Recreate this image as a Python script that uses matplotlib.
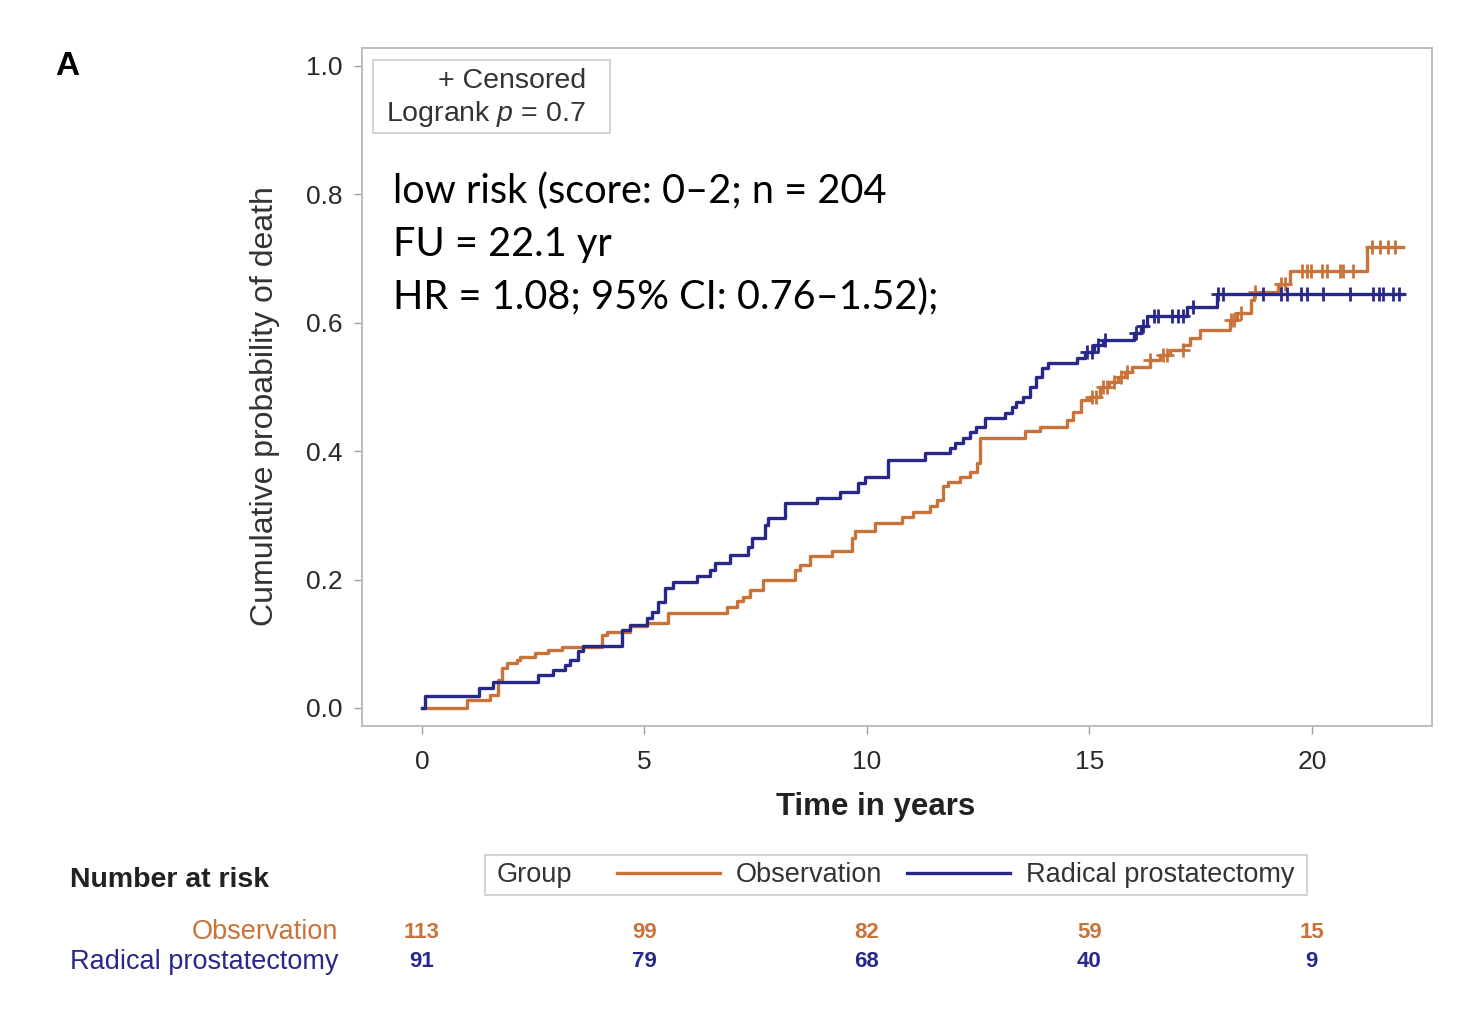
import numpy as np
import matplotlib
matplotlib.use("Agg")
import matplotlib.pyplot as plt
from matplotlib.lines import Line2D
from matplotlib.patches import Rectangle
from matplotlib.transforms import blended_transform_factory

plt.rcParams['font.family'] = ['Liberation Sans', 'DejaVu Sans']
plt.rcParams['mathtext.fontset'] = 'custom'
plt.rcParams['mathtext.rm'] = 'Liberation Sans'
plt.rcParams['mathtext.it'] = 'Liberation Sans:italic'

# step curves (time in years, cumulative probability)
obs_t = [0, 1.00, 1.53, 1.71, 1.79, 1.90, 2.13, 2.20, 2.54, 2.84, 3.14, 4.04, 4.15, 4.67,
         5.05, 5.53, 6.85, 7.07, 7.22, 7.37, 7.67, 8.38, 8.49, 8.72, 9.21, 9.66, 9.73,
         10.18, 10.78, 11.04, 11.42, 11.57, 11.71, 11.83, 12.09, 12.31, 12.47, 12.55,
         13.55, 13.89, 14.49, 14.63, 14.82, 15.01, 15.24, 15.45, 15.65, 15.80, 15.95,
         16.36, 16.58, 16.81, 17.11, 17.26, 17.48, 18.16, 18.31, 18.64, 18.70, 19.24,
         19.50, 21.23]
obs_p = [0, 0.012, 0.020, 0.044, 0.062, 0.070, 0.075, 0.080, 0.085, 0.090, 0.095, 0.114,
         0.119, 0.127, 0.132, 0.148, 0.158, 0.166, 0.173, 0.184, 0.200, 0.215, 0.223,
         0.236, 0.244, 0.265, 0.275, 0.288, 0.298, 0.306, 0.314, 0.324, 0.345, 0.352,
         0.360, 0.368, 0.381, 0.420, 0.431, 0.438, 0.449, 0.461, 0.480, 0.485, 0.500,
         0.508, 0.516, 0.524, 0.531, 0.542, 0.550, 0.558, 0.565, 0.576, 0.589, 0.604,
         0.615, 0.636, 0.648, 0.661, 0.680, 0.718]
obs_end = 22.05
obs_cens = [15.05, 15.15, 15.3, 15.4, 15.55, 15.7, 15.85, 16.36, 16.65, 16.75, 17.1,
            18.18, 18.25, 18.4, 18.72, 19.3, 19.4, 19.77, 19.88, 19.99, 20.22, 20.33,
            20.63, 20.7, 20.93, 21.34, 21.53, 21.71, 21.87]

rp_t = [0, 0.07, 1.27, 1.60, 2.61, 2.95, 3.21, 3.33, 3.51, 3.62, 4.49, 4.67, 5.05, 5.16,
        5.31, 5.46, 5.65, 6.17, 6.47, 6.58, 6.92, 7.33, 7.41, 7.71, 7.78, 8.16, 8.87,
        9.39, 9.80, 9.96, 10.48, 11.30, 11.87, 11.98, 12.16, 12.31, 12.46, 12.65, 13.10,
        13.25, 13.36, 13.51, 13.66, 13.81, 13.93, 14.07, 14.71, 14.90, 15.10, 15.30,
        16.00, 16.15, 16.30, 17.20, 17.86]
rp_p = [0, 0.018, 0.031, 0.041, 0.051, 0.059, 0.067, 0.075, 0.088, 0.096, 0.121, 0.129,
        0.140, 0.150, 0.165, 0.187, 0.197, 0.205, 0.215, 0.226, 0.238, 0.251, 0.265,
        0.285, 0.296, 0.319, 0.327, 0.337, 0.350, 0.360, 0.386, 0.397, 0.405, 0.413,
        0.420, 0.430, 0.438, 0.451, 0.459, 0.469, 0.477, 0.485, 0.500, 0.516, 0.529,
        0.537, 0.545, 0.555, 0.565, 0.573, 0.584, 0.595, 0.610, 0.624, 0.644]
rp_end = 22.05
rp_cens = [14.95, 15.05, 15.2, 15.35, 16.05, 16.2, 16.45, 16.55, 16.85, 17.0, 17.1, 17.33,
           17.9, 18.0, 18.9, 19.3, 19.45, 19.75, 19.9, 20.25, 20.85, 21.37, 21.5, 21.6,
           21.82, 21.95]

risk_times = [0, 5, 10, 15, 20]
obs_risk = [113, 99, 82, 59, 15]
rp_risk = [91, 79, 68, 40, 9]

ORANGE = '#C9733A'
BLUE = '#28288A'


def step_value(t_arr, p_arr, t):
    idx = np.searchsorted(np.array(t_arr), np.array(t), side='right') - 1
    return np.array(p_arr)[idx]


fig = plt.figure(figsize=(14.84, 10.09), dpi=100)
ax = fig.add_axes([0.2439, 0.2805, 0.7211, 0.672])

for t, p, end, cens, col in [(obs_t, obs_p, obs_end, obs_cens, ORANGE),
                             (rp_t, rp_p, rp_end, rp_cens, BLUE)]:
    ax.step(t + [end], p + [p[-1]], where='post', color=col, lw=2.4)
    ax.plot(cens, step_value(t, p, cens), ls='none', marker='+', ms=10, mew=2, color=col)

ax.set_xlim(-1.35, 22.7)
ax.set_ylim(-0.028, 1.028)
ax.set_xticks(risk_times)
ax.set_yticks([0, 0.2, 0.4, 0.6, 0.8, 1.0])
ax.set_yticklabels(['0.0', '0.2', '0.4', '0.6', '0.8', '1.0'])
for s in ax.spines.values():
    s.set_color('#BDBDBD')
    s.set_linewidth(1.4)
ax.tick_params(axis='both', direction='out', length=6, width=1, color='#A0A0A0',
               labelsize=19, labelcolor='#2A2A2A')
ax.tick_params(axis='x', pad=11)
ax.tick_params(axis='y', pad=8)

ax.set_ylabel('Cumulative probability of death', fontsize=23, color='#333333')
ax.yaxis.set_label_coords(-0.077, 0.472)
ax.set_xlabel('Time in years', fontsize=22.5, fontweight='bold', color='#222222')
ax.xaxis.set_label_coords(0.4804, -0.098)

# censored / logrank box
ax.add_patch(Rectangle((0.0103, 0.8746), 0.2215, 0.1077, transform=ax.transAxes,
                       fill=False, ec='#CCCCCC', lw=1.2))
ax.text(0.2093, 0.9515, '+ Censored', transform=ax.transAxes, ha='right', va='center',
        fontsize=20.5, color='#333333')
ax.text(0.2093, 0.9020, 'Logrank $p$ = 0.7', transform=ax.transAxes, ha='right',
        va='center', fontsize=20.5, color='#333333')

ax.text(0.029, 0.816, 'low risk (score: 0\u20132; n = 204\nFU = 22.1 yr\n'
        'HR = 1.08; 95% CI: 0.76\u20131.52);', transform=ax.transAxes,
        ha='left', va='top', fontsize=28.6, family=['Lato', 'DejaVu Sans'],
        color='black', linespacing=1.52)

fig.text(0.037, 0.934, 'A', fontsize=24, fontweight='bold', ha='left', va='center')

# number at risk table
fig.text(0.0472, 0.1279, 'Number at risk', fontsize=20.5, fontweight='bold',
         color='#222222', ha='left', va='center')
fig.text(0.2278, 0.0763, 'Observation', fontsize=19.5, color=ORANGE, ha='right', va='center')
fig.text(0.2278, 0.0466, 'Radical prostatectomy', fontsize=19.5, color=BLUE,
         ha='right', va='center')
trans = blended_transform_factory(ax.transData, fig.transFigure)
for x, a, b in zip(risk_times, obs_risk, rp_risk):
    fig.text(x, 0.0763, str(a), transform=trans, ha='center', va='center',
             fontsize=16, fontweight='bold', color=ORANGE)
    fig.text(x, 0.0466, str(b), transform=trans, ha='center', va='center',
             fontsize=16, fontweight='bold', color=BLUE)

# group legend
fig.add_artist(Rectangle((0.3268, 0.1130), 0.5539, 0.0396, transform=fig.transFigure,
                         fill=False, ec='#CCCCCC', lw=1.2))
fig.text(0.3349, 0.1328, 'Group', fontsize=19.5, color='#333333', ha='left', va='center')
handles = [Line2D([], [], color=ORANGE, lw=2.4), Line2D([], [], color=BLUE, lw=2.4)]
fig.legend(handles, ['Observation', 'Radical prostatectomy'], loc='center left',
           bbox_to_anchor=(0.4158, 0.1328), ncol=2, frameon=False, fontsize=19.5,
           handlelength=3.8, handletextpad=0.6, columnspacing=0.9,
           borderpad=0, borderaxespad=0, labelcolor='#333333')

fig.savefig('out.png', dpi=100)
plt.close(fig)
